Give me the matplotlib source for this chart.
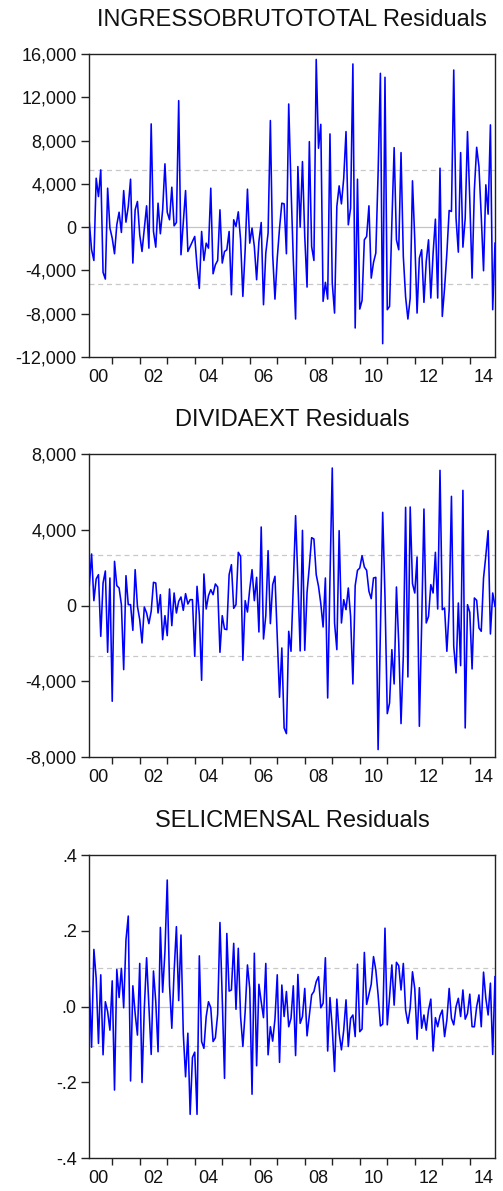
import numpy as np
import matplotlib
matplotlib.use("Agg")
import matplotlib.pyplot as plt
from matplotlib.ticker import FuncFormatter, FixedLocator, NullFormatter

plt.rcParams['font.family'] = ['Liberation Sans', 'DejaVu Sans']

# Monthly residuals, 2000M03 - 2014M12
start_year = 2000
start_month = 3

ingresso_resid = [
    430, -2090, -3080, 4520, 2830, 5290, -4180, -4800, 3600, -90, -1020, -2460,
    215, 1380, -490, 3380, 460, 1910, 4430, -3320, 1600, 2370, -710, -2250,
    -90, 1970, -1940, 9540, -400, -1850, 2215, -615, 1600, 5850, 1380, 680,
    3690, 120, 430, 11690, -2550, 370, 3380, -2250, -1790, -1320, -860, -3630,
    -5660, -400, -3080, -1480, -1940, 3600, -4310, -3480, -3080,
    1600, -3320, -2250, -2090, -400, -6250, 680, 60, 1415, -1170, -6400, -2090,
    3510, -1480, -90, -1790, -4860, -1320, 430, -7170, -2400, -550, 9850, -2550,
    -6650, -2860, -90, 2215, 2150, -2460, 11380, 3750, -3015, -8490, 5600, 0,
    6060, -860, -5540, 7900, -1790, -3080, 15500, 7290, 9500, -6860, -5100, -6650,
    8615, -5170, -7940, 1910, 3815, 2150, 4520, 8830, 215, 1750, 15080,
    -9320, 4430, -7570, -6770, -1170, -860, 1970, -4710, -3260, -2400, 5000, 14215,
    -10770, 13850, -7630, -7320, 370, 7350, -1170, -2090, 6890, -2700, -6460, -8490,
    -6550, 4280, -1170, -7940, -2860, -2090, -6950, -3170, -1170, -6550, -2400, 740,
    -6550, 5450, -8250, -5630, -2400, 1540, 1450, 14520, 830, -2310, 6890, -1850,
    830, 8830, 2520, -4710, 3450, 7380, 5600, 985, -4030, 3910, 1200, 9450,
    -7630, -1480,
]

dividaext_resid = [
    1055, 2725, 264, 1406, 1635, -1617, 1195, 1828, -2461, 1459, -5045, 2338,
    1055, 932, 53, -3375, 1582, 53, 53, -1301, 1899, -35, -738, -1969,
    -70, -387, -949, -299, 1231, 1195, -387, 580, -1793, -527, -1582, 879,
    -1055, 668, -387, 229, 457, -246, 633, 88, 316, 316, -2672, 1020,
    -475, -3938, 1670, -176, 527, 844, 580, 1143, 984,
    -2461, -527, -1231, -1266, 1635, 2162, -141, 53, 2813, 2602, -2883, 264,
    -334, 879, 1899, 264, 1494, -1389, 4149, -1758, -527, 2901, -949, 1108,
    1547, -1617, -4835, -2233, -6452, -6751, -1354, -2408, 1055, 4747, 1371, -2391,
    3973, -2356, 703, 2074, 3586, 3516, 1635, 1020, 105, -1125, 1459, -4870,
    1406, 7261, -914, -2321, 3956, -914, 316, -211, 932, -563, -4131, 1055,
    1863, 1986, 2637, 2039, 1863, 756, 369, 1459, 1494, -7594, -1266, 4922,
    492, -5696, -5134, -2321, -4131, 984, -1969, -6223, -2637, 5186, -3762, 5204,
    1160, 668, 2567, -6364, -1000, 5098, -914, -563, 1108, 668, 2813, -176,
    7138, -211, -123, -2408, -211, 5766, -2145, -3551, 141, -3165, 6083, -6452,
    53, -352, -3340, 404, 281, -1178, -1354, 1459, 2637, 3956, -1494, 668,
    -35,
]

selic_resid = [
    0.053, -0.107, 0.151, 0.075, -0.097, 0.084, -0.127, 0.013, -0.013, -0.062,
    0.068, -0.220, 0.098, 0.024, 0.101, -0.003, 0.176, 0.239, -0.196, 0.055,
    -0.018, -0.075, 0.114, -0.200, -0.004, 0.129, 0.004, -0.126, 0.094, 0.013,
    -0.119, 0.209, 0.038, 0.145, 0.334, 0.057, -0.057, 0.092, 0.211, 0.016,
    0.189, -0.070, -0.185, -0.070, -0.284, -0.134, -0.120, -0.284, 0.134, -0.092,
    -0.110, -0.026, 0.013, -0.003, -0.092, -0.082, -0.020,
    0.222, 0.022, -0.189, 0.193, 0.041, 0.044, 0.167, -0.007, 0.154, -0.026,
    -0.105, -0.013, 0.110, 0.048, -0.231, 0.141, -0.156, 0.059, 0.013, -0.029,
    0.114, -0.127, -0.053, -0.091, -0.033, 0.084, -0.147, 0.057, -0.026, 0.040,
    -0.053, -0.031, 0.055, -0.129, 0.085, -0.044, -0.026, 0.048, -0.077, -0.022,
    0.031, 0.040, 0.066, 0.079, -0.003, 0.009, 0.129, -0.117, 0.024, -0.057,
    -0.171, 0.020, -0.070, -0.114, -0.062, 0.018, -0.105, -0.031, -0.022, -0.079,
    0.112, -0.066, -0.059, 0.143, 0.006, 0.033, 0.059, 0.132, 0.097, 0.031,
    -0.051, -0.046, 0.207, -0.048, 0.026, 0.110, 0.004, 0.117, 0.108, 0.044,
    0.114, -0.009, -0.044, -0.004, 0.092, 0.047, -0.086, 0.050, -0.057, -0.022,
    -0.062, -0.009, 0.020, -0.117, -0.029, -0.053, -0.024, -0.009, -0.079, -0.035,
    0.048, -0.031, -0.048, 0.000, 0.022, -0.026, 0.044, -0.033, -0.018, 0.033,
    -0.053, -0.053, 0.000, 0.031, -0.053, 0.091, 0.022, -0.022, 0.062, -0.126,
    0.079,
]

titles = ["INGRESSOBRUTOTOTAL Residuals", "DIVIDAEXT Residuals", "SELICMENSAL Residuals"]
series = [ingresso_resid, dividaext_resid, selic_resid]
std_errors = [5260, 2660, 0.103]
y_limits = [(-12000, 16000), (-8000, 8000), (-0.4, 0.4)]
y_steps = [4000, 4000, 0.2]
year_labels = ["00", "02", "04", "06", "08", "10", "12", "14"]


def thousands(v, pos):
    return f"{int(round(v)):,}"


def decimal_no_zero(v, pos):
    s = f"{v:.1f}"
    return s.replace("0.", ".")


W, H = 503, 1191
fig = plt.figure(figsize=(W / 100, H / 100), dpi=100)
fig.patch.set_facecolor("white")

left_px, right_px = 89.3, 495.0
panel_px = [(54.0, 357.0), (454.0, 757.3), (855.0, 1158.3)]

x0 = start_year + (start_month - 1) / 12.0

for k, (title, vals, se, ylim, step) in enumerate(
        zip(titles, series, std_errors, y_limits, y_steps)):
    top, bot = panel_px[k]
    ax = fig.add_axes([left_px / W, 1 - bot / H,
                       (right_px - left_px) / W, (bot - top) / H])
    v = np.asarray(vals, dtype=float)
    x = x0 + np.arange(len(v)) / 12.0

    ax.axhline(0, color="#c4c4c4", lw=0.9, zorder=1)
    for s in (se, -se):
        ax.axhline(s, color="#c8c8c8", lw=0.9, ls=(0, (4, 3)), zorder=1)

    ax.plot(x, v, color="#0000ff", lw=1.15, zorder=3)

    ax.set_xlim(x[0], x[-1])
    ax.set_ylim(*ylim)
    ax.set_yticks(np.arange(ylim[0], ylim[1] + step / 2, step))
    if k < 2:
        ax.yaxis.set_major_formatter(FuncFormatter(thousands))
    else:
        ax.yaxis.set_major_formatter(FuncFormatter(decimal_no_zero))

    years = np.arange(int(np.ceil(x[0])), int(np.floor(x[-1])) + 1)
    ax.xaxis.set_major_locator(FixedLocator(years))
    ax.xaxis.set_major_formatter(NullFormatter())
    label_pos = [2000 + 2 * i + 0.5 for i in range(len(year_labels))]
    ax.xaxis.set_minor_locator(FixedLocator(label_pos))
    ax.set_xticklabels(year_labels, minor=True)

    ax.tick_params(axis="x", which="major", direction="out", length=5,
                   width=1.0, color="#222222")
    ax.tick_params(axis="x", which="minor", length=0, pad=8.5,
                   labelsize=13, labelcolor="#111111")
    ax.tick_params(axis="y", which="major", direction="out", length=6,
                   width=1.0, color="#222222", pad=3, labelsize=13,
                   labelcolor="#111111")

    for sp in ax.spines.values():
        sp.set_color("#222222")
        sp.set_linewidth(1.0)

    ax.set_title(title, fontsize=17, pad=20, color="#111111")

fig.savefig("out.png", dpi=100, facecolor="white")
